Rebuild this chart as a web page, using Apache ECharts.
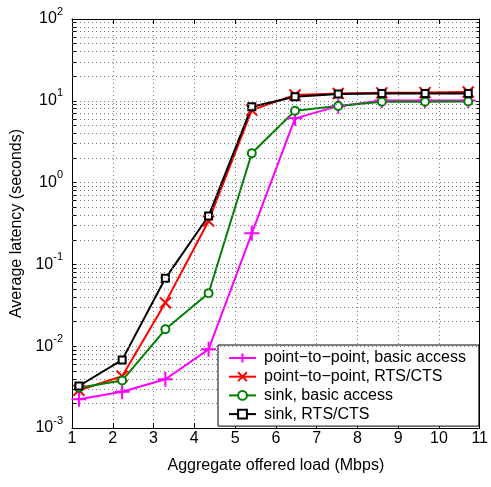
<!DOCTYPE html>
<html>
<head>
<meta charset="utf-8">
<script src="https://cdn.jsdelivr.net/npm/echarts@6/dist/echarts.min.js"></script>
<style>
  html, body { margin: 0; padding: 0; background: #fff; }
  #chart { width: 491px; height: 487px; }
</style>
</head>
<body>
<div id="chart"></div>
<script>
// Offered load (Mbps) for each measurement point
const load = [1.17, 2.23, 3.29, 4.35, 5.41, 6.47, 7.53, 8.60, 9.66, 10.72];

// Average latency (seconds) per scenario
const p2pBasic  = [0.00224, 0.00278, 0.00394, 0.00916, 0.24, 6.1, 8.6, 10.1, 10.1, 10.1];
const p2pRts    = [0.0029, 0.0043, 0.034, 0.34, 7.7, 11.8, 12.3, 12.5, 12.6, 12.8];
const sinkBasic = [0.0031, 0.0038, 0.0161, 0.0444, 2.28, 7.57, 8.64, 9.75, 9.75, 9.8];
const sinkRts   = [0.00326, 0.0068, 0.0676, 0.39, 8.47, 11.2, 12.1, 12.3, 12.3, 12.3];

const seriesNames = [
  'point\u2212to\u2212point, basic access',
  'point\u2212to\u2212point, RTS/CTS',
  'sink, basic access',
  'sink, RTS/CTS'
];

// Axis ranges
const xMin = 1, xMax = 11, xStep = 1;
const yDecadeMin = -3, yDecadeMax = 2;

// Minor log grid positions (2..9 within each decade) and all tick positions
const minorLogValues = [];
const allLogTicks = [];
for (let d = yDecadeMin; d <= yDecadeMax; d++) {
  allLogTicks.push(Math.pow(10, d));
  if (d === yDecadeMax) break;
  for (let k = 2; k <= 9; k++) {
    minorLogValues.push(k * Math.pow(10, d));
    allLogTicks.push(k * Math.pow(10, d));
  }
}

const FONT = 'Liberation Sans, Arial, Helvetica, sans-serif';
const gridDots = { color: '#7a7a7a', width: 1, type: [1, 3] };

const plusPath = 'path://M0,-10 L0,10 M-10,0 L10,0';
const crossPath = 'path://M-10,-10 L10,10 M-10,10 L10,-10';

function pairs(ys) { return load.map((x, i) => [x, ys[i]]); }

function lineSeries(name, ys, color, symbol, size, border) {
  return {
    name: name,
    type: 'line',
    data: pairs(ys),
    z: 3,
    symbol: symbol,
    symbolSize: size,
    showAllSymbol: true,
    lineStyle: { color: color, width: 2 },
    itemStyle: { color: color, borderColor: color, borderWidth: border },
    emphasis: { disabled: true },
    animation: false
  };
}

const chart = echarts.init(document.getElementById('chart'), null, { renderer: 'canvas' });

const yLabel = {
  fontFamily: FONT,
  color: '#000',
  margin: 9,
  formatter: function (v) {
    const e = Math.round(Math.log10(v));
    return '{b|10}{e|' + e + '}';
  },
  rich: {
    b: { fontSize: 16, fontFamily: FONT, color: '#000', lineHeight: 26, verticalAlign: 'middle' },
    e: { fontSize: 11, fontFamily: FONT, color: '#000', lineHeight: 26, verticalAlign: 'top' }
  }
};

const logTick = { show: true, inside: true, length: 4, customValues: allLogTicks, lineStyle: { color: '#000' } };

const option = {
  backgroundColor: '#fff',
  animation: false,
  grid: { left: 72, right: 7, top: 19, bottom: 59, containLabel: false },
  legend: {
    data: seriesNames,
    orient: 'vertical',
    left: 218,
    top: 345,
    itemWidth: 27,
    itemHeight: 11,
    itemGap: 2.7,
    padding: [5, 13, 4, 10],
    backgroundColor: '#fff',
    borderColor: '#000',
    borderWidth: 1,
    borderRadius: 0,
    textStyle: { fontFamily: FONT, fontSize: 16, color: '#000', padding: [0, 0, 0, 3] },
    selectedMode: false
  },
  xAxis: [
    {
      type: 'value', min: xMin, max: xMax, interval: xStep,
      name: 'Aggregate offered load (Mbps)',
      nameLocation: 'middle', nameGap: 30,
      nameTextStyle: { fontFamily: FONT, fontSize: 16, color: '#000' },
      axisLine: { show: true, lineStyle: { color: '#000', width: 1 } },
      axisTick: { show: true, inside: true, length: 5, lineStyle: { color: '#000' } },
      axisLabel: { fontFamily: FONT, fontSize: 16, color: '#000', margin: 3 },
      splitLine: { show: true, lineStyle: gridDots }
    },
    {
      type: 'value', min: xMin, max: xMax, interval: xStep, position: 'top',
      axisLine: { show: true, lineStyle: { color: '#000', width: 1 } },
      axisTick: { show: true, inside: true, length: 5, lineStyle: { color: '#000' } },
      axisLabel: { show: false },
      splitLine: { show: false }
    }
  ],
  yAxis: [
    {
      type: 'log', logBase: 10,
      min: Math.pow(10, yDecadeMin), max: Math.pow(10, yDecadeMax),
      splitNumber: yDecadeMax - yDecadeMin,
      name: 'Average latency (seconds)',
      nameLocation: 'middle', nameGap: 38,
      nameTextStyle: { fontFamily: FONT, fontSize: 16, color: '#000' },
      axisLine: { show: true, lineStyle: { color: '#000', width: 1 } },
      axisTick: logTick,
      axisLabel: yLabel,
      splitLine: { show: true, lineStyle: gridDots }
    },
    {
      type: 'log', logBase: 10, position: 'right',
      min: Math.pow(10, yDecadeMin), max: Math.pow(10, yDecadeMax),
      splitNumber: yDecadeMax - yDecadeMin,
      axisLine: { show: true, lineStyle: { color: '#000', width: 1 } },
      axisTick: logTick,
      axisLabel: { show: false },
      splitLine: { show: false }
    }
  ],
  series: [
    {
      name: 'minor-grid',
      type: 'line',
      data: [],
      z: 1,
      silent: true,
      markLine: {
        silent: true,
        symbol: ['none', 'none'],
        label: { show: false },
        lineStyle: gridDots,
        emphasis: { disabled: true },
        data: minorLogValues.map(v => ({ yAxis: v }))
      }
    },
    lineSeries(seriesNames[0], p2pBasic, '#ff00ff', plusPath, 15, 2),
    lineSeries(seriesNames[1], p2pRts, '#ff0000', crossPath, 11, 2),
    lineSeries(seriesNames[2], sinkBasic, '#008000', 'emptyCircle', 8, 1.6),
    lineSeries(seriesNames[3], sinkRts, '#000000', 'emptyRect', 7, 1.6)
  ]
};

chart.setOption(option);
</script>
</body>
</html>
